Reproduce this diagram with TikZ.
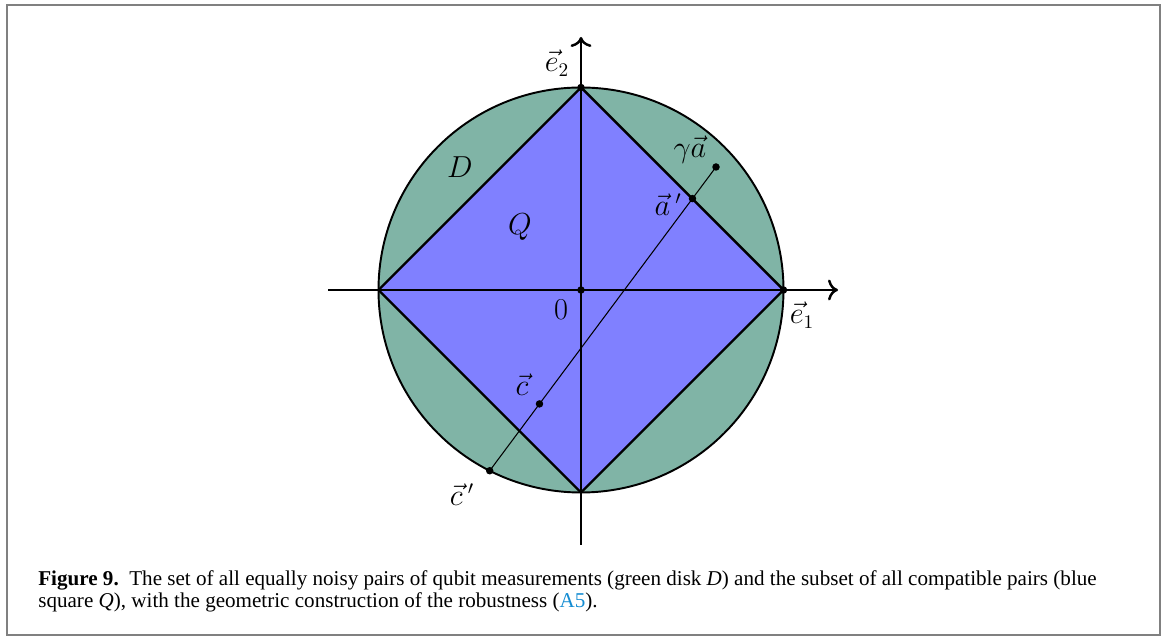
\documentclass[tikz,border=0pt]{standalone}
\usepackage{fontspec}
\newfontfamily\capfont{Liberation Serif}
\usetikzlibrary{calc,arrows.meta}
\definecolor{diskgreen}{RGB}{128,180,166}
\definecolor{squareblue}{RGB}{128,128,255}
\definecolor{linkblue}{RGB}{20,140,210}
\definecolor{framegray}{RGB}{128,128,128}

\begin{document}
\begin{tikzpicture}[
    lab/.style={font=\fontsize{16}{19}\selectfont},
    axis/.style={line width=1.4pt},
    ]
    \useasboundingbox (-11.62,-6.94) rectangle (11.68,5.80);
    \draw[framegray, line width=0.05cm] (-11.48,-6.9) rectangle (11.58,5.70);

    \coordinate (O) at (0,0);
    \coordinate (E1) at (4.05,0);
    \coordinate (E2) at (0,4.05);
    \coordinate (W) at (-4.05,0);
    \coordinate (S) at (0,-4.05);
    \coordinate (XL) at (-5.05,0);
    \coordinate (XR) at (5.14,0);
    \coordinate (YB) at (0,-5.1);
    \coordinate (YT) at (0,5.06);

    \draw[fill=diskgreen, line width=1.1pt] (O) circle[radius=4.05];
    \draw[fill=squareblue, axis] (E1) -- (E2) -- (W) -- (S) -- cycle;

    \draw[axis, -{To[length=2mm, width=4.2mm]}] (XL) -- (XR);
    \draw[axis, -{To[length=2mm, width=4.2mm]}] (YB) -- (YT);

    \coordinate (Cp) at (243.2:4.05);
    \coordinate (GA) at (2.70,2.46);
    \coordinate (C) at ($(Cp)!0.22!(GA)$);
    \coordinate (Ap) at ($(Cp)!0.896!(GA)$);

    \draw[line width=0.6pt] (Cp) -- (GA);
    \foreach \p in {O,E1,E2,Ap,GA,C,Cp}
        \fill (\p) circle[radius=0.075];

    \node[lab] (e2) at (-0.48,4.54) {$\vec{e}_2$};
    \node[lab] (ga) at (2.18,2.8) {$\gamma\vec{a}$};
    \node[lab] (ap) at (1.74,1.70) {$\vec{a}\,'$};
    \node[lab] (Dl) at (-2.42,2.46) {$D$};
    \node[lab] (Ql) at (-1.22,1.26) {$Q$};
    \node[lab] (zero) at (-0.4,-0.4) {$0$};
    \node[lab] (e1) at (4.42,-0.5) {$\vec{e}_1$};
    \node[lab] (cl) at (-1.18,-1.9) {$\vec{c}$};
    \node[lab] (cpl) at (-2.38,-4.1) {$\vec{c}\,'$};

    \node[anchor=north west, inner sep=0pt, align=left, font=\capfont\fontsize{12}{12.5}\selectfont] (cap) at (-10.86,-5.6)
        {\textbf{Figure 9.}\ \ The set of all equally noisy pairs of qubit measurements (green disk \textit{D}) and the subset of all compatible pairs (blue\\
        square \textit{Q}), with the geometric construction of the robustness ({\color{linkblue}A5}).};
\end{tikzpicture}
\end{document}
